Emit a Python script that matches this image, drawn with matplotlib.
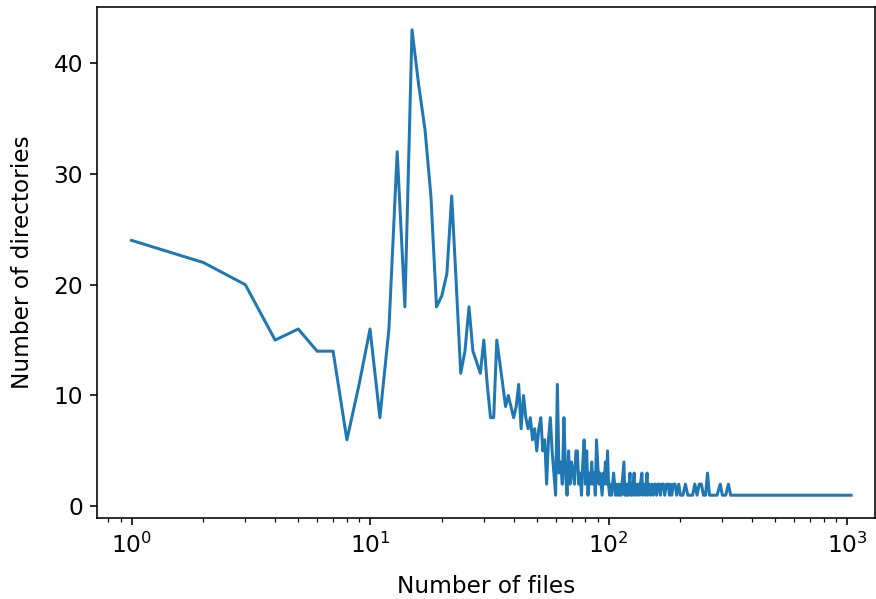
import matplotlib
matplotlib.use("Agg")
import matplotlib.pyplot as plt

# number of files in a directory -> how many directories have that count
n_files = [
    1, 2, 3, 4, 5, 6, 7, 8, 9, 10,
    11, 12, 13, 14, 15, 16, 17, 18, 19, 20,
    21, 22, 23, 24, 25, 26, 27, 28, 29, 30,
    31, 32, 33, 34, 35, 36, 37, 38, 39, 40,
    41, 42, 43, 44, 45, 46, 47, 48, 49, 50,
    51, 52, 53, 54, 55, 56, 57, 58, 59, 60,
    61, 62, 63, 64, 65, 66, 67, 68, 69, 70,
    71, 72, 73, 74, 75, 76, 77, 78, 79, 80,
    81, 82, 83, 84, 85, 86, 87, 88, 89, 90,
    91, 92, 93, 94, 95, 96, 97, 98, 99,
    100, 101, 102, 103, 104, 105, 106, 107, 108, 109,
    110, 111, 112, 113, 114, 115, 116, 117, 118, 119,
    120, 121, 122, 123, 124, 125, 126, 127, 128, 129,
    130, 132, 133, 135, 136, 138, 139, 141, 143, 145,
    146, 148, 150, 152, 154, 156, 157, 159, 161, 163,
    165, 167, 170, 172, 175, 178, 180, 182, 184, 187,
    190, 193, 197, 200, 205, 210, 215, 220, 225, 230,
    235, 240, 245, 250, 255, 260, 265, 275, 285, 294,
    300, 310, 318, 325, 1040,
]
n_dirs = [
    24, 22, 20, 15, 16, 14, 14, 6, 11, 16,
    8, 16, 32, 18, 43, 38, 34, 28, 18, 19,
    21, 28, 20, 12, 14, 18, 14, 13, 12, 15,
    11, 8, 8, 15, 13, 11, 9, 10, 9, 8,
    9, 11, 7, 10, 8, 7, 8, 6, 7, 5,
    7, 8, 5, 6, 2, 6, 8, 5, 3, 1,
    11, 3, 4, 2, 8, 3, 1, 5, 2, 4,
    3, 2, 5, 5, 2, 3, 1, 4, 6, 2,
    5, 1, 3, 2, 4, 2, 3, 1, 6, 4,
    2, 3, 2, 1, 3, 2, 4, 2, 5,
    2, 1, 2, 1, 2, 3, 2, 1, 2, 1,
    2, 1, 2, 1, 2, 3, 4, 1, 2, 1,
    2, 1, 2, 3, 1, 2, 1, 2, 3, 1,
    2, 1, 2, 1, 2, 3, 1, 2, 1, 3,
    1, 2, 1, 2, 1, 2, 2, 1, 2, 2,
    1, 2, 2, 1, 2, 2, 1, 2, 1, 2,
    2, 1, 2, 1, 1, 2, 1, 1, 1, 2,
    1, 2, 2, 1, 1, 3, 1, 1, 1, 2,
    1, 1, 2, 1, 1,
]

plt.rcParams['font.size'] = 11.6

fig = plt.figure(figsize=(876 / 144, 599 / 144), dpi=144)
ax = fig.add_axes([0.1107, 0.1344, 0.8882, 0.8547])
ax.plot(n_files, n_dirs)
ax.set_xscale('log')
ax.set_xlim(0.7165, 1310)
ax.set_xlabel('Number of files', labelpad=8.5)
ax.set_ylabel('Number of directories', labelpad=9.5)

fig.savefig('out.png', dpi=144)
